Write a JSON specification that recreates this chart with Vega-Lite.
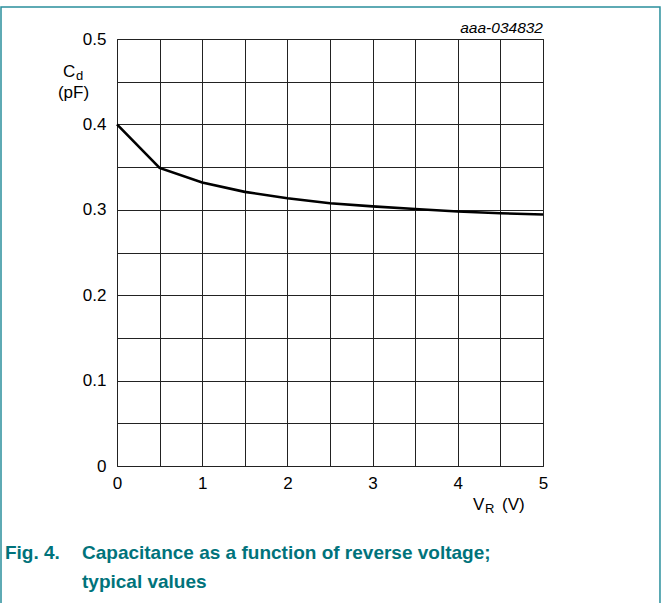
{
  "$schema": "https://vega.github.io/schema/vega-lite/v6.json",
  "autosize": {"type": "none"},
  "width": 426,
  "height": 427,
  "padding": {"left": 117, "top": 39, "right": 121, "bottom": 137},
  "background": "white",
  "config": {
    "view": {"stroke": "#222", "strokeWidth": 1},
    "text": {"font": "Liberation Sans", "fontWeight": "normal"}
  },
  "layer": [
    {
      "data": {"values": [
        {"vr": 0, "cd": 0.4},
        {"vr": 0.5, "cd": 0.349},
        {"vr": 1, "cd": 0.332},
        {"vr": 1.5, "cd": 0.321},
        {"vr": 2, "cd": 0.3135},
        {"vr": 2.5, "cd": 0.3076},
        {"vr": 3, "cd": 0.304},
        {"vr": 3.5, "cd": 0.301},
        {"vr": 4, "cd": 0.298},
        {"vr": 4.5, "cd": 0.296},
        {"vr": 5, "cd": 0.2945}
      ]},
      "mark": {"type": "line", "color": "#000", "strokeWidth": 2.6, "clip": false},
      "encoding": {
        "x": {"field": "vr", "type": "quantitative",
          "scale": {"domain": [0, 5], "nice": false, "zero": false},
          "axis": {"title": null, "values": [0, 0.5, 1, 1.5, 2, 2.5, 3, 3.5, 4, 4.5, 5],
            "labelExpr": "datum.value % 1 === 0 ? format(datum.value, 'd') : ''",
            "labelFont": "Liberation Sans", "labelFontSize": 17, "labelColor": "#000", "labelFontWeight": "normal",
            "grid": true, "gridColor": "#222", "gridWidth": 1, "gridOpacity": 1,
            "ticks": false, "domain": false, "labelPadding": 9, "labelFlush": false}},
        "y": {"field": "cd", "type": "quantitative",
          "scale": {"domain": [0, 0.5], "nice": false, "zero": false},
          "axis": {"title": null, "values": [0, 0.05, 0.1, 0.15, 0.2, 0.25, 0.3, 0.35, 0.4, 0.45, 0.5],
            "labelExpr": "round(datum.value * 100) % 10 === 0 ? format(datum.value, '.1~f') : ''",
            "labelFont": "Liberation Sans", "labelFontSize": 17, "labelColor": "#000", "labelFontWeight": "normal",
            "grid": true, "gridColor": "#222", "gridWidth": 1, "gridOpacity": 1,
            "ticks": false, "domain": false, "labelPadding": 11, "labelFlush": false}}
      }
    },
    {
      "data": {"values": [{}]},
      "mark": {"type": "text", "text": "C", "fontSize": 17, "align": "center", "baseline": "alphabetic", "fill": "#000"},
      "encoding": {"x": {"datum": -0.563, "type": "quantitative"}, "y": {"datum": 0.4555, "type": "quantitative"}}
    },
    {
      "data": {"values": [{}]},
      "mark": {"type": "text", "text": "d", "fontSize": 13, "align": "left", "baseline": "alphabetic", "fill": "#000"},
      "encoding": {"x": {"datum": -0.48, "type": "quantitative"}, "y": {"datum": 0.452, "type": "quantitative"}}
    },
    {
      "data": {"values": [{}]},
      "mark": {"type": "text", "text": "(pF)", "fontSize": 17, "align": "center", "baseline": "alphabetic", "fill": "#000"},
      "encoding": {"x": {"datum": -0.511, "type": "quantitative"}, "y": {"datum": 0.431, "type": "quantitative"}}
    },
    {
      "data": {"values": [{}]},
      "mark": {"type": "text", "text": "V", "fontSize": 17, "align": "left", "baseline": "alphabetic", "fill": "#000"},
      "encoding": {"x": {"datum": 4.178, "type": "quantitative"}, "y": {"datum": -0.0515, "type": "quantitative"}}
    },
    {
      "data": {"values": [{}]},
      "mark": {"type": "text", "text": "R", "fontSize": 13, "align": "left", "baseline": "alphabetic", "fill": "#000"},
      "encoding": {"x": {"datum": 4.319, "type": "quantitative"}, "y": {"datum": -0.055, "type": "quantitative"}}
    },
    {
      "data": {"values": [{}]},
      "mark": {"type": "text", "text": "(V)", "fontSize": 17, "align": "left", "baseline": "alphabetic", "fill": "#000"},
      "encoding": {"x": {"datum": 4.519, "type": "quantitative"}, "y": {"datum": -0.0515, "type": "quantitative"}}
    },
    {
      "data": {"values": [{}]},
      "mark": {"type": "text", "text": "aaa-034832", "fontSize": 15.5, "fontStyle": "italic", "align": "right", "baseline": "alphabetic", "fill": "#000"},
      "encoding": {"x": {"datum": 5.0, "type": "quantitative"}, "y": {"datum": 0.507, "type": "quantitative"}}
    },
    {
      "data": {"values": [{}]},
      "mark": {"type": "text", "text": "Fig. 4.", "fontSize": 19, "fontWeight": "bold", "font": "Liberation Sans", "align": "left", "baseline": "alphabetic", "fill": "#00737b"},
      "encoding": {"x": {"datum": -1.315, "type": "quantitative"}, "y": {"datum": -0.1089, "type": "quantitative"}}
    },
    {
      "data": {"values": [{}]},
      "mark": {"type": "text", "text": ["Capacitance as a function of reverse voltage;", "typical values"], "lineHeight": 29, "fontSize": 19, "fontWeight": "bold", "font": "Liberation Sans", "align": "left", "baseline": "alphabetic", "fill": "#00737b"},
      "encoding": {"x": {"datum": -0.411, "type": "quantitative"}, "y": {"datum": -0.1089, "type": "quantitative"}}
    },
    {
      "data": {"values": [{}]},
      "mark": {"type": "rect", "filled": false, "stroke": "#2a8f9c", "strokeWidth": 1.5, "clip": false},
      "encoding": {"x": {"datum": -1.3615, "type": "quantitative"}, "x2": {"datum": 6.373},
        "y": {"datum": 0.5375, "type": "quantitative"}, "y2": {"datum": -0.2}}
    }
  ]
}
